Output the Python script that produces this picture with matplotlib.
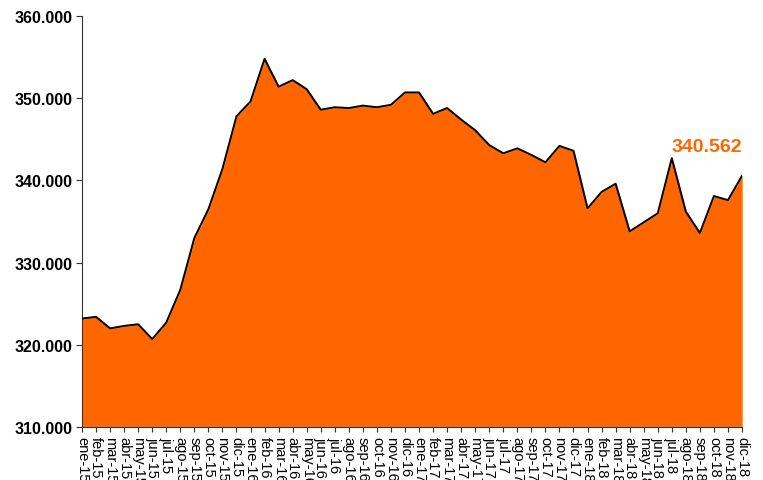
import matplotlib
matplotlib.use("Agg")
import matplotlib.pyplot as plt
from matplotlib.ticker import FuncFormatter

months = ["ene", "feb", "mar", "abr", "may", "jun", "jul", "ago", "sep", "oct", "nov", "dic"]
years = ["15", "16", "17", "18"]
labels = [f"{m}-{y}" for y in years for m in months]

values = [
    323.2, 323.4, 322.0, 322.3, 322.5, 320.7, 322.7, 326.7, 333.0, 336.5, 341.4, 347.8,
    349.6, 354.8, 351.4, 352.2, 351.1, 348.6, 348.9, 348.8, 349.1, 348.9, 349.2, 350.7,
    350.7, 348.1, 348.8, 347.4, 346.1, 344.3, 343.3, 343.9, 343.1, 342.2, 344.2, 343.6,
    336.6, 338.6, 339.6, 333.8, 334.9, 336.0, 342.7, 336.2, 333.6, 338.1, 337.6, 340.562,
]
last_label = "340.562"

plt.rcParams['font.family'] = ['Liberation Sans', 'DejaVu Sans']

fig = plt.figure(figsize=(7.63, 4.81), dpi=100)
ax = fig.add_axes([82/763, 1-428/481, (742-82)/763, (428-17)/481])

x = list(range(len(values)))
ax.fill_between(x, 310, values, facecolor="#FF6600", edgecolor="#FF9A2E", linewidth=1.0, zorder=2)
ax.plot(x, values, color="black", linewidth=1.4, zorder=3)

ax.set_xlim(0, len(values)-1)
ax.set_ylim(310, 360)
ax.set_yticks([310, 320, 330, 340, 350, 360])
ax.yaxis.set_major_formatter(FuncFormatter(lambda v, p: f"{v:.3f}"))
for t in ax.get_yticklabels():
    t.set_fontweight("bold")
    t.set_fontsize(11.5)

ax.set_xticks(x)
ax.set_xticklabels(labels, rotation=-90, fontsize=10.5, va="top", ha="center")
ax.tick_params(axis="x", length=3.5, width=0.8, pad=3, color="#333333")
ax.tick_params(axis="y", length=4, width=0.8, pad=3, color="#333333")

for s in ["top", "right"]:
    ax.spines[s].set_visible(False)
for s in ["left", "bottom"]:
    ax.spines[s].set_color("#333333")
    ax.spines[s].set_linewidth(0.8)

ax.annotate(last_label, xy=(x[-1], values[-1]), xytext=(0, 15), textcoords="offset points",
            ha="right", va="bottom", color="#FF6600", fontsize=14, fontweight="bold", zorder=5)

fig.savefig("out.png", dpi=100)
